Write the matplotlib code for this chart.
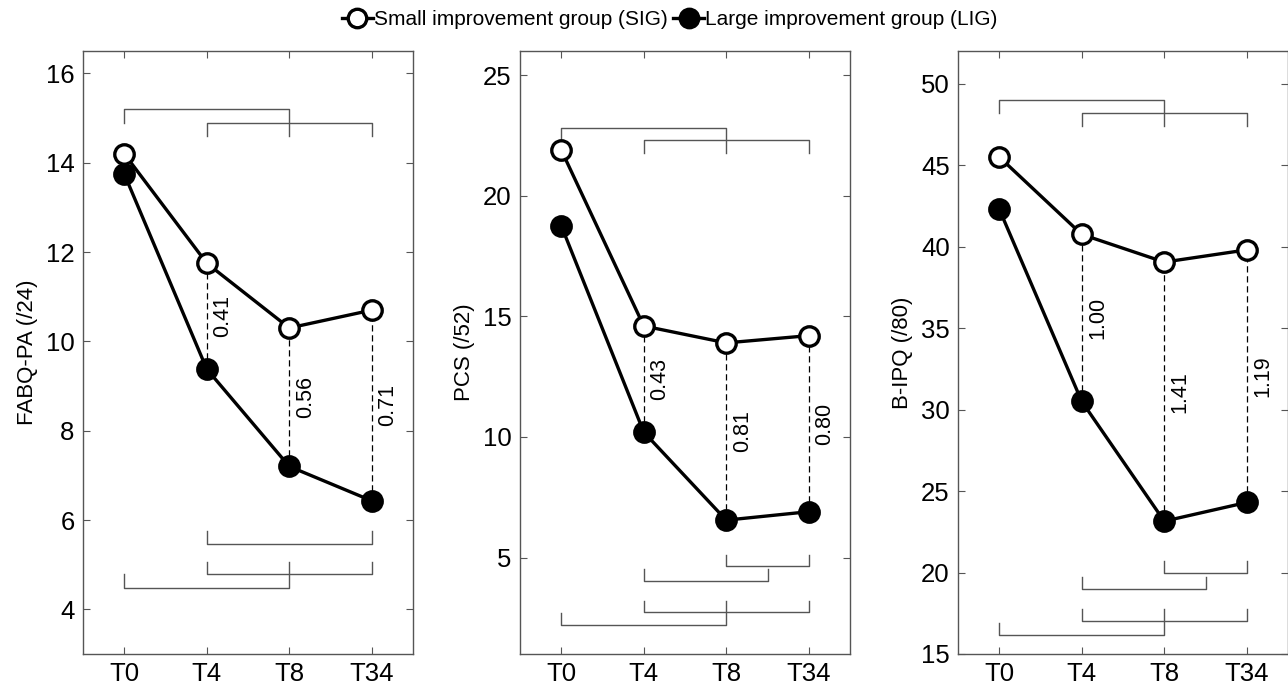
import numpy as np
import matplotlib
matplotlib.use('Agg')
from matplotlib import pyplot as plt

plt.rcParams['font.family'] = ['Liberation Sans', 'DejaVu Sans']

times = ['T0', 'T4', 'T8', 'T34']

# FABQ-PA
fabq_sig = [14.2, 11.75, 10.3, 10.7]
fabq_lig = [13.75, 9.38, 7.2, 6.43]
fabq_es = [None, '0.41', '0.56', '0.71']

# PCS
pcs_sig = [21.9, 14.6, 13.9, 14.2]
pcs_lig = [18.76, 10.2, 6.55, 6.9]
pcs_es = [None, '0.43', '0.81', '0.80']

# B-IPQ
bipq_sig = [45.5, 40.75, 39.05, 39.8]
bipq_lig = [42.3, 30.5, 23.15, 24.3]
bipq_es = [None, '1.00', '1.41', '1.19']

# significance brackets: x1, x2, bar level, leg end at x1, leg end at x2
fabq_br = [(1, 3, 15.2, 14.9, 14.6), (2, 4, 14.9, 14.6, 14.6),
           (2, 4, 5.47, 5.76, 5.76), (2, 4, 4.8, 5.07, 5.07), (1, 3, 4.48, 4.8, 5.07)]
pcs_br = [(1, 3, 22.8, 22.3, 21.76), (2, 4, 22.3, 21.76, 21.76),
          (3, 4, 4.64, 5.1, 5.1), (2, 3.5, 4.03, 4.52, 4.52),
          (2, 4, 2.75, 3.2, 3.2), (1, 3, 2.21, 2.71, 3.2)]
bipq_br = [(1, 3, 48.98, 48.2, 47.4), (2, 4, 48.2, 47.4, 47.4),
           (3, 4, 19.98, 20.71, 20.71), (2, 3.5, 18.98, 19.73, 19.73),
           (2, 4, 17.0, 17.75, 17.75), (1, 3, 16.17, 16.93, 17.75)]

panels = [
    ('FABQ-PA (/24)', fabq_sig, fabq_lig, fabq_es, fabq_br, (3, 16.5), [4, 6, 8, 10, 12, 14, 16]),
    ('PCS (/52)', pcs_sig, pcs_lig, pcs_es, pcs_br, (1, 26), [5, 10, 15, 20, 25]),
    ('B-IPQ (/80)', bipq_sig, bipq_lig, bipq_es, bipq_br, (15, 52), [15, 20, 25, 30, 35, 40, 45, 50]),
]

fig = plt.figure(figsize=(12.88, 6.93), dpi=100)
lefts = [83 / 1288, 520 / 1288, 958 / 1288]
spine_col = '#555555'
x = np.arange(1, 5)

for left, (ylab, sig, lig, es, br, ylim, yt) in zip(lefts, panels):
    ax = fig.add_axes([left, 0.0563, 330 / 1288, 0.870])
    for i in range(1, 4):
        ax.plot([x[i], x[i]], [lig[i], sig[i]], ls='--', color='black', lw=0.9, dashes=(5, 3), zorder=1)
        ax.annotate(es[i], xy=(x[i], (sig[i] + lig[i]) / 2), xytext=(4, 0), textcoords='offset points',
                    rotation=90, ha='left', va='center', fontsize=15.5)
    l1, = ax.plot(x, sig, '-o', color='black', lw=2.4, ms=14, mfc='white', mec='black', mew=2.4, zorder=3)
    l2, = ax.plot(x, lig, '-o', color='black', lw=2.4, ms=14, mfc='black', mec='black', mew=2.4, zorder=3)
    for x1, x2, yb, e1, e2 in br:
        ax.plot([x1, x1, x2, x2], [e1, yb, yb, e2], color=spine_col, lw=1.0, zorder=2)
    ax.set_xlim(0.5, 4.5)
    ax.set_ylim(*ylim)
    ax.set_xticks(x)
    ax.set_xticklabels(times)
    ax.set_yticks(yt)
    ax.set_ylabel(ylab, fontsize=16, labelpad=6)
    ax.tick_params(direction='in', top=True, right=True, length=5, width=0.8, color=spine_col,
                   labelsize=18.5, pad=6)
    for s in ax.spines.values():
        s.set_color(spine_col)
        s.set_linewidth(1.0)

fig.legend([l1, l2], ['Small improvement group (SIG)', 'Large improvement group (LIG)'],
           loc='upper center', bbox_to_anchor=(0.52, 1.012), ncol=2, frameon=False, fontsize=15,
           handlelength=1.5, handletextpad=0.05, columnspacing=0.25, markerscale=0.95)

fig.savefig('out.png', dpi=100)
